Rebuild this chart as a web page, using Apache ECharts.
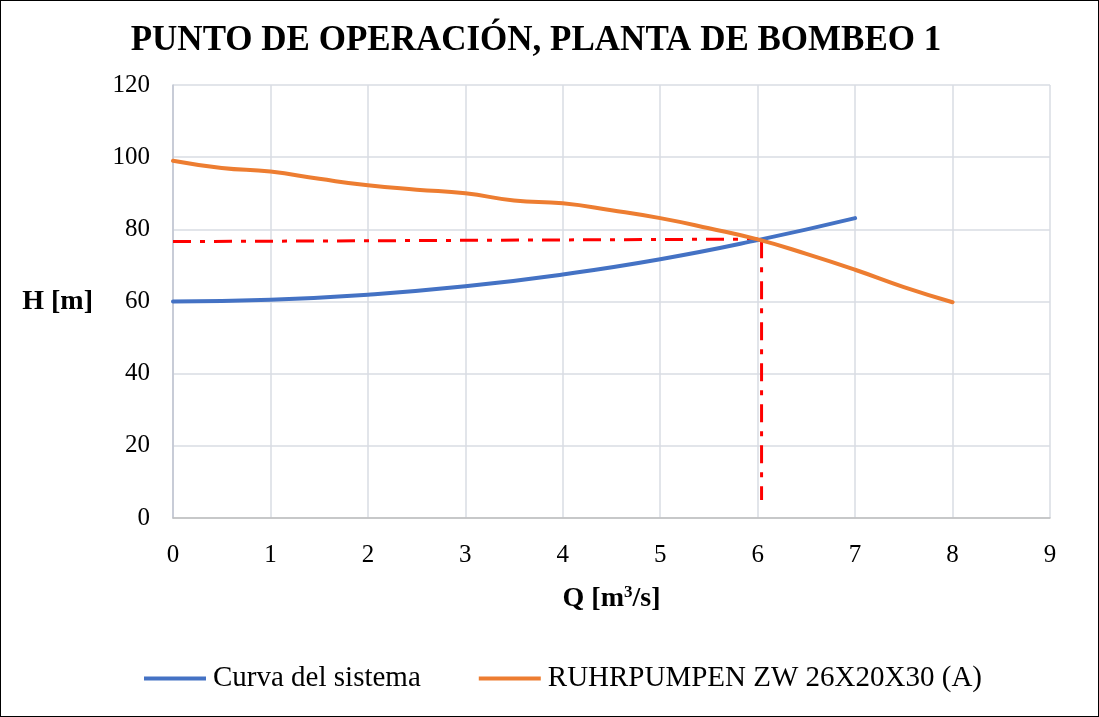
<!DOCTYPE html>
<html>
<head>
<meta charset="utf-8">
<script src="https://cdn.jsdelivr.net/npm/echarts@6/dist/echarts.min.js"></script>
<style>
  html, body { margin: 0; padding: 0; background: #fff; }
  #chart { width: 1097px; height: 715px; border: 1px solid #000; }
</style>
</head>
<body>
<div id="chart"></div>
<script>
// Caudal Q [m3/s] y carga H [m]
const qSistema = [0, 1, 2, 3, 4, 5, 6, 7];
const hSistema = [60, 60.5, 61.9, 64.2, 67.5, 71.7, 77.0, 83.1];

const qBomba = [0, 0.5, 1, 1.5, 2, 2.5, 3, 3.5, 4, 4.5, 5, 5.5, 6, 6.5, 7, 7.5, 8];
const hBomba = [99, 97, 96, 94, 92.2, 91, 90, 88, 87.2, 85.3, 83.1, 80.3, 77.2, 73.2, 68.8, 64, 59.8];

// Punto de operación y líneas de referencia
const refHorizontal = [[0, 76.6], [6.0, 77.3]];
const refVertical = [[6.04, 77], [6.04, 5]];

const xTicks = [0, 1, 2, 3, 4, 5, 6, 7, 8, 9];
const yTicks = [0, 20, 40, 60, 80, 100, 120];

const serif = '"Liberation Serif", "Times New Roman", serif';

const chart = echarts.init(document.getElementById('chart'));
chart.setOption({
  animation: false,
  title: {
    text: 'PUNTO DE OPERACIÓN, PLANTA DE BOMBEO 1',
    left: 530, top: 17, textAlign: 'center',
    textStyle: { fontFamily: serif, fontSize: 35, fontWeight: 'bold', color: '#000' }
  },
  grid: { left: 172, right: 48, top: 84, bottom: 198 },
  legend: {
    data: ['Curva del sistema', 'RUHRPUMPEN ZW 26X20X30 (A)'],
    top: 658, left: 138,
    itemWidth: 62, itemHeight: 4, itemGap: 58,
    icon: 'rect',
    textStyle: { fontFamily: serif, fontSize: 29, color: '#000', padding: [0, 0, 0, 2] }
  },
  xAxis: {
    type: 'value', min: 0, max: 9, interval: 1,
    name: 'Q [m{s|3}/s]', nameLocation: 'middle', nameGap: 66,
    nameTextStyle: {
      fontFamily: serif, fontSize: 28, fontWeight: 'bold', color: '#000',
      rich: { s: { fontFamily: serif, fontSize: 17, fontWeight: 'bold', verticalAlign: 'top', padding: [0, 0, 12, 0] } }
    },
    axisLine: { lineStyle: { color: '#bfbfbf', width: 1.5 } },
    axisTick: { show: false },
    axisLabel: { fontFamily: serif, fontSize: 25, color: '#000', margin: 25,
      formatter: v => xTicks.includes(v) ? String(v) : '' },
    splitLine: { show: true, lineStyle: { color: '#d9dde3', width: 1.5 } }
  },
  yAxis: {
    type: 'value', min: 0, max: 120, interval: 20,
    name: 'H [m]', nameLocation: 'middle', nameRotate: 0, nameGap: 80,
    nameTextStyle: { fontFamily: serif, fontSize: 28, fontWeight: 'bold', color: '#000' },
    axisLine: { show: true, lineStyle: { color: '#bfc5d0', width: 1.5 } },
    axisTick: { show: false },
    axisLabel: { fontFamily: serif, fontSize: 25, color: '#000', margin: 23,
      formatter: v => yTicks.includes(v) ? String(v) : '' },
    splitLine: { lineStyle: { color: '#d9dde3', width: 1.5 } }
  },
  series: [
    {
      name: 'Curva del sistema', type: 'line', smooth: true, symbol: 'none',
      data: qSistema.map((q, i) => [q, hSistema[i]]),
      lineStyle: { color: '#4472C4', width: 4, cap: 'round' },
      itemStyle: { color: '#4472C4' }, z: 3
    },
    {
      name: 'RUHRPUMPEN ZW 26X20X30 (A)', type: 'line', smooth: true, symbol: 'none',
      data: qBomba.map((q, i) => [q, hBomba[i]]),
      lineStyle: { color: '#ED7D31', width: 4, cap: 'round' },
      itemStyle: { color: '#ED7D31' }, z: 4
    },
    {
      name: 'refH', type: 'line', symbol: 'none', data: refHorizontal,
      lineStyle: { color: '#ff0000', width: 3, type: [18, 9, 5, 9] }, z: 2
    },
    {
      name: 'refV', type: 'line', symbol: 'none', data: refVertical,
      lineStyle: { color: '#ff0000', width: 3, type: [18, 9, 5, 9] }, z: 2
    }
  ]
});
</script>
</body>
</html>
